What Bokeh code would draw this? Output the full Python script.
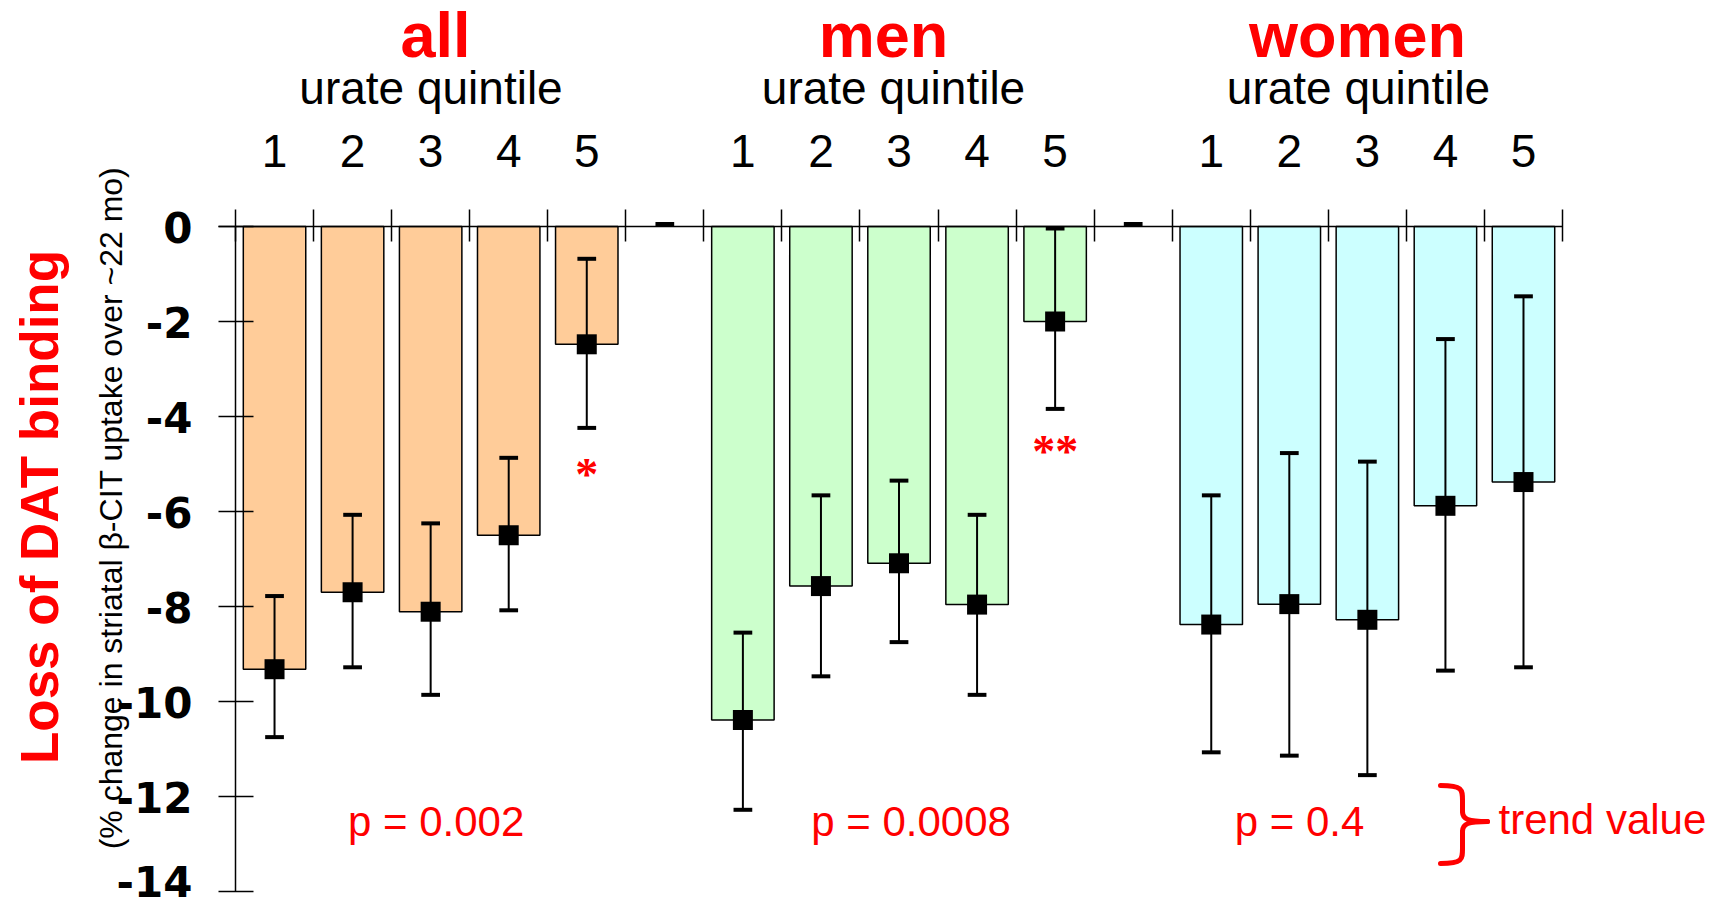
import math

from bokeh.core.properties import value
from bokeh.embed import file_html
from bokeh.models import ColumnDataSource, FixedTicker, LinearAxis, Range1d
from bokeh.plotting import figure
from bokeh.resources import INLINE

# ---- data -----------------------------------------------------------------
groups = ["all", "men", "women"]
quintiles = ["1", "2", "3", "4", "5"]

all_mean = [-9.32, -7.70, -8.11, -6.50, -2.48]
all_low = [-10.75, -9.28, -9.86, -8.08, -4.24]
all_high = [-7.78, -6.07, -6.25, -4.87, -0.68]

men_mean = [-10.39, -7.57, -7.09, -7.96, -2.00]
men_low = [-12.28, -9.47, -8.75, -9.86, -3.84]
men_high = [-8.55, -5.66, -5.35, -6.07, -0.04]

women_mean = [-8.38, -7.95, -8.28, -5.88, -5.38]
women_low = [-11.07, -11.14, -11.55, -9.35, -9.28]
women_high = [-5.66, -4.77, -4.95, -2.37, -1.47]

p_values = ["p = 0.002", "p = 0.0008", "p = 0.4"]
significance = ["*", "**"]          # marks under the 5th quintile (all, men)

y_ticks = [0, -2, -4, -6, -8, -10, -12, -14]
y_tick_labels = ["0", "-2", "-4", "-6", "-8", "-10", "-12", "-14"]

# ---- layout ---------------------------------------------------------------
W, H = 1727, 907
X0, SLOT = 235.0, 78.06      # pixel of first slot boundary, pixels per slot
Y0, UNIT = 226.0, 47.5       # pixel of y = 0, pixels per percent
DROP = 0.34                  # glyph text sits this many ems below its anchor

def sx(px):
    return (px - X0) / SLOT

def sy(py):
    return (Y0 - py) / UNIT

def py_of(v):
    return Y0 - v * UNIT

def base_y(py, fs):
    """data y that puts a text baseline on pixel row py"""
    return sy(py - DROP * fs)

def base_x(px, fs):
    """data x that puts a vertical (rotated) text baseline on pixel column px"""
    return sx(px - DROP * fs)

group_fill = ["#FFCC99", "#CCFFCC", "#CCFFFF"]
slots_per_group = len(quintiles) + 1          # five quintiles plus a spacer
n_slots = len(groups) * slots_per_group - 1

means = [all_mean, men_mean, women_mean]
lows = [all_low, men_low, women_low]
highs = [all_high, men_high, women_high]

xs, ms, los, his, cols, qlab = [], [], [], [], [], []
for g in range(len(groups)):
    for q in range(len(quintiles)):
        xs.append(g * slots_per_group + q + 0.5)
        ms.append(means[g][q])
        los.append(lows[g][q])
        his.append(highs[g][q])
        cols.append(group_fill[g])
        qlab.append(quintiles[q])

cap = 0.12
src = ColumnDataSource(dict(
    x=xs, mean=ms, low=los, high=his, color=cols,
    cl=[x - cap for x in xs], cr=[x + cap for x in xs],
))

spacers = [g * slots_per_group + len(quintiles) + 0.5 for g in range(len(groups) - 1)]

p = figure(width=W, height=H,
           x_range=Range1d(sx(0), sx(W)), y_range=Range1d(sy(H), sy(0)),
           x_axis_type=None, y_axis_type=None,
           min_border=0, toolbar_location=None, output_backend="svg")
p.outline_line_color = None
p.xgrid.visible = False
p.ygrid.visible = False
p.background_fill_color = "white"
p.border_fill_color = "white"

SANS = "Liberation Sans"

# y axis pinned to the first slot boundary (its numbers are set as text below)
yaxis = LinearAxis(fixed_location=0, bounds=(min(y_ticks), max(y_ticks)),
                   ticker=FixedTicker(ticks=y_ticks),
                   major_tick_in=18, major_tick_out=17,
                   major_tick_line_width=1.5, axis_line_width=1.5,
                   minor_tick_line_color=None,
                   major_label_text_color=None)
p.add_layout(yaxis, "left")

# heavy y tick numbers, right-aligned left of the ticks, kept inside the canvas
TICK_FS = 42
half_ink = 0.365 * TICK_FS
lowest_base = H - 0.25 * TICK_FS - 1
tick_base = [min(py_of(t) + half_ink, lowest_base) for t in y_ticks]
p.text(x=sx(192), y=[base_y(b, TICK_FS) for b in tick_base], text=y_tick_labels,
       text_font=value("DejaVu Sans"), text_font_style="bold",
       text_font_size=f"{TICK_FS}px", text_color="black",
       text_align="right", text_baseline="alphabetic")

# x axis pinned at y = 0: slot boundaries as minor ticks, quintile numbers as labels
xaxis = LinearAxis(fixed_location=0, bounds=(sx(218), n_slots),
                   ticker=FixedTicker(ticks=xs, minor_ticks=list(range(n_slots + 1))),
                   major_label_overrides=dict(zip(xs, qlab)),
                   major_tick_in=0, major_tick_out=0, major_tick_line_color=None,
                   minor_tick_in=15, minor_tick_out=17,
                   minor_tick_line_width=1.5, minor_tick_line_color="black",
                   axis_line_width=1.5,
                   major_label_standoff=43,
                   major_label_text_font=SANS,
                   major_label_text_font_size="46px",
                   major_label_text_color="black")
p.add_layout(xaxis, "above")

# bars, error bars, means
p.vbar(x="x", top=0, bottom="mean", width=0.8, fill_color="color",
       line_color="black", line_width=1.5, source=src)
p.segment(x0="x", y0="low", x1="x", y1="high", line_color="black",
          line_width=2, source=src)
p.segment(x0="cl", y0="low", x1="cr", y1="low", line_color="black",
          line_width=4, source=src)
p.segment(x0="cl", y0="high", x1="cr", y1="high", line_color="black",
          line_width=4, source=src)
p.scatter(x="x", y="mean", marker="square", size=20, fill_color="black",
          line_color=None, source=src)

# empty spacer slots
p.segment(x0=[s - cap for s in spacers], y0=sy(223.5),
          x1=[s + cap for s in spacers], y1=sy(223.5),
          line_color="black", line_width=4)

# group headings
p.text(x=[sx(435), sx(883), sx(1357)], y=base_y(56, 63), text=groups,
       text_font=value(SANS), text_font_style="bold", text_font_size="63px",
       text_color="red", text_align="center", text_baseline="alphabetic")
p.text(x=[sx(430.5), sx(893), sx(1358)], y=base_y(102.7, 46),
       text=["urate quintile"] * len(groups),
       text_font=value(SANS), text_font_size="46px",
       text_color="black", text_align="center", text_baseline="alphabetic")

# significance marks
p.text(x=[xs[4], xs[9]], y=[base_y(490, 46), base_y(467, 46)], text=significance,
       text_font=value("Liberation Serif"), text_font_style="bold",
       text_font_size="46px", text_color="red",
       text_align="center", text_baseline="alphabetic")

# trend p-values
p.text(x=[sx(435.6), sx(910.6), sx(1299)], y=base_y(835, 42), text=p_values,
       text_font=value(SANS), text_font_size="42px", text_color="red",
       text_align="center", text_baseline="alphabetic")
p.text(x=[sx(1498)], y=[base_y(833, 42)], text=["trend value"],
       text_font=value(SANS), text_font_size="42px", text_color="red",
       text_align="left", text_baseline="alphabetic")

# brace grouping the p-values
bx0, bxm, bxt = 1440, 1462, 1487
byt, byc, byb = 785, 821, 863
p.bezier(x0=[sx(bx0), sx(bxm), sx(bx0), sx(bxm)],
         y0=[sy(byt), sy(byc - 10), sy(byb), sy(byc + 10)],
         x1=[sx(bxm), sx(bxt), sx(bxm), sx(bxt)],
         y1=[sy(byt + 15), sy(byc), sy(byb - 15), sy(byc)],
         cx0=[sx(bxm), sx(bxm), sx(bxm), sx(bxm)],
         cy0=[sy(byt), sy(byc - 2), sy(byb), sy(byc + 2)],
         cx1=[sx(bxm), sx(bxm + 6), sx(bxm), sx(bxm + 6)],
         cy1=[sy(byt + 4), sy(byc), sy(byb - 4), sy(byc)],
         line_color="red", line_width=5, line_cap="round")
p.segment(x0=[sx(bxm), sx(bxm)], y0=[sy(byt + 15), sy(byb - 15)],
          x1=[sx(bxm), sx(bxm)], y1=[sy(byc - 10), sy(byc + 10)],
          line_color="red", line_width=5, line_cap="round")

# y titles
p.text(x=[base_x(57, 53)], y=[sy(506.5)], text=["Loss of DAT binding"],
       angle=math.pi / 2,
       text_font=value(SANS), text_font_style="bold", text_font_size="53px",
       text_color="red", text_align="center", text_baseline="alphabetic")
p.text(x=[base_x(121, 32)], y=[sy(507.5)],
       text=["(% change in striatal \u03b2-CIT uptake over ~22 mo)"],
       angle=math.pi / 2,
       text_font=value(SANS), text_font_size="32px",
       text_color="black", text_align="center", text_baseline="alphabetic")

open("out.html", "w").write(file_html(p, INLINE))
